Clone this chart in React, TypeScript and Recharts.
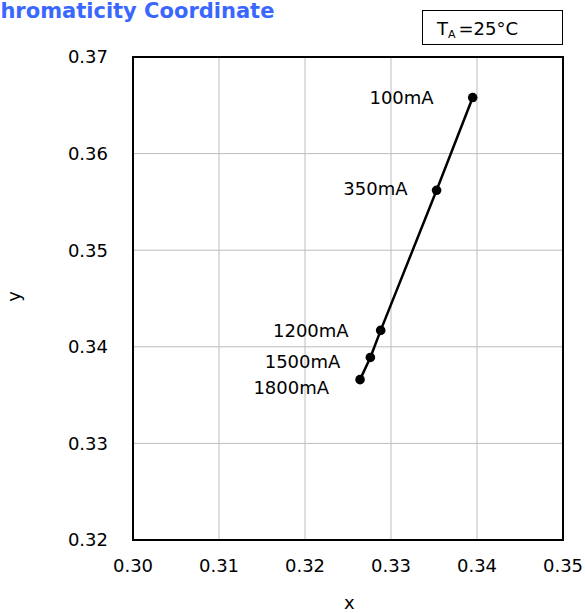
import React from "react";
import {
  ScatterChart,
  Scatter,
  XAxis,
  YAxis,
  CartesianGrid,
  ReferenceArea,
} from "recharts";

// drive current and CIE 1931 chromaticity coordinates
const currents = ["100mA", "350mA", "1200mA", "1500mA", "1800mA"];
const cieX = [0.3395, 0.3353, 0.3288, 0.3276, 0.3264];
const cieY = [0.3658, 0.3562, 0.3417, 0.3389, 0.3366];
const xTicks = [0.3, 0.31, 0.32, 0.33, 0.34, 0.35];
const yTicks = [0.32, 0.33, 0.34, 0.35, 0.36, 0.37];

const data = currents.map((c, i) => ({ current: c, x: cieX[i], y: cieY[i] }));

// label nudges (dx, dy) relative to the point
const labelShift: Record<string, [number, number]> = {
  "100mA": [-39, 0],
  "350mA": [-29, -2],
  "1200mA": [-32, 0],
  "1500mA": [-30, 4],
  "1800mA": [-31, 8],
};

const font = "'DejaVu Sans', Verdana, sans-serif";

const Dot = (props: any) => {
  const { cx, cy, payload } = props;
  const [dx, dy] = labelShift[payload.current] || [-30, 0];
  return (
    <g>
      <circle cx={cx} cy={cy} r={4.8} fill="#000" />
      <text
        x={cx + dx}
        y={cy + dy}
        dy="0.36em"
        textAnchor="end"
        fontSize={18}
        fontFamily={font}
        fill="#000"
      >
        {payload.current}
      </text>
    </g>
  );
};

const App = () => {
  return (
    <div
      style={{
        position: "absolute",
        left: 0,
        top: 0,
        width: 585,
        height: 613,
        background: "#fff",
        fontFamily: font,
        overflow: "hidden",
      }}
    >
      <div
        style={{
          position: "absolute",
          left: -15,
          top: -1,
          fontSize: 21,
          fontWeight: "bold",
          color: "#3a68ff",
          whiteSpace: "nowrap",
        }}
      >
        Chromaticity Coordinate
      </div>
      <div
        style={{
          position: "absolute",
          left: 422,
          top: 10,
          width: 139,
          height: 33,
          border: "1px solid #000",
          boxSizing: "content-box",
          fontSize: 18,
          lineHeight: "33px",
          whiteSpace: "nowrap",
        }}
      >
        <span style={{ position: "absolute", left: 14, top: 1 }}>
          T
          <span style={{ fontSize: 11, position: "relative", top: 3 }}>A</span>
          <span style={{ marginLeft: 3 }}>=25°C</span>
        </span>
      </div>
      <ScatterChart
        width={585}
        height={613}
        margin={{ top: 57, right: 22, bottom: 33, left: 73 }}
      >
        <CartesianGrid stroke="#bdbdbd" strokeWidth={1} />
        <XAxis
          type="number"
          dataKey="x"
          domain={[0.3, 0.35]}
          ticks={xTicks}
          tickFormatter={(v: number) => v.toFixed(2)}
          tick={{ fontSize: 18, fill: "#000", fontFamily: font }}
          tickLine={false}
          tickMargin={13}
          axisLine={false}
          height={40}
          allowDataOverflow
        />
        <YAxis
          type="number"
          dataKey="y"
          domain={[0.32, 0.37]}
          ticks={yTicks}
          tickFormatter={(v: number) => v.toFixed(2)}
          tick={{ fontSize: 18, fill: "#000", fontFamily: font }}
          tickLine={false}
          tickMargin={19}
          axisLine={false}
          width={60}
          allowDataOverflow
        />
        <ReferenceArea
          x1={0.3}
          x2={0.35}
          y1={0.32}
          y2={0.37}
          fill="none"
          stroke="#000"
          strokeWidth={2}
          fillOpacity={0}
        />
        <Scatter
          data={data}
          line={{ stroke: "#000", strokeWidth: 2.5 }}
          shape={Dot}
          isAnimationActive={false}
        />
      </ScatterChart>
      <div
        style={{
          position: "absolute",
          left: 344,
          top: 592,
          fontSize: 18,
        }}
      >
        x
      </div>
      <div
        style={{
          position: "absolute",
          left: 8,
          top: 286,
          fontSize: 18,
          transform: "rotate(-90deg)",
        }}
      >
        y
      </div>
    </div>
  );
};

export default App;
